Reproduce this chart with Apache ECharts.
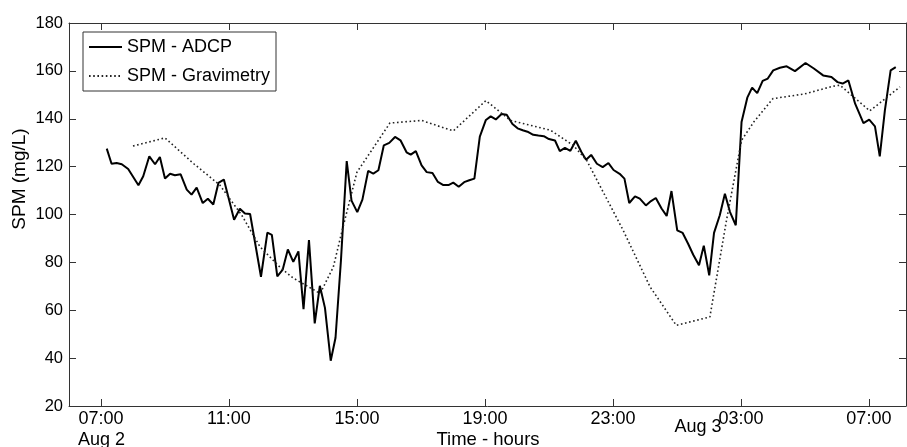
<!DOCTYPE html>
<html>
<head>
<meta charset="utf-8">
<script src="https://cdn.jsdelivr.net/npm/echarts@6/dist/echarts.min.js"></script>
<style>
html,body{margin:0;padding:0;background:#fff;}
#chart{width:907px;height:447px;}
</style>
</head>
<body>
<div id="chart"></div>
<script>
// Time in hours since Aug 2 00:00
var adcpHours = [7.18,7.33,7.49,7.65,7.85,8.17,8.32,8.51,8.69,8.84,9.00,9.16,9.31,9.49,9.68,9.83,9.99,10.18,10.34,10.51,10.67,10.84,10.98,11.16,11.34,11.50,11.66,12.00,12.20,12.34,12.51,12.68,12.84,13.01,13.17,13.33,13.50,13.68,13.84,14.00,14.18,14.33,14.50,14.68,14.83,15.01,15.17,15.35,15.51,15.67,15.84,16.01,16.19,16.36,16.55,16.68,16.84,17.02,17.18,17.36,17.53,17.70,17.86,18.01,18.18,18.35,18.51,18.67,18.84,19.03,19.18,19.34,19.52,19.68,19.86,20.02,20.18,20.33,20.51,20.67,20.84,21.00,21.19,21.34,21.50,21.67,21.84,22.01,22.16,22.32,22.50,22.68,22.86,23.02,23.21,23.36,23.51,23.69,23.84,24.03,24.19,24.34,24.52,24.68,24.83,25.01,25.18,25.35,25.51,25.69,25.84,26.01,26.16,26.34,26.50,26.66,26.84,27.02,27.20,27.35,27.51,27.68,27.84,28.01,28.22,28.43,28.69,29.02,29.28,29.57,29.83,30.02,30.18,30.36,30.57,30.83,31.01,31.19,31.34,31.50,31.68,31.84];
var adcpValues = [127.5,121.2,121.5,121,119,112.2,116,124.3,121,124,115,117,116.4,116.8,110.4,108.3,111.2,104.8,106.6,104.2,113.2,114.6,107.3,97.8,102.4,100.4,100.2,74,92.4,91.5,74.2,77,85.4,80.2,84.6,60.5,89.3,54.5,70.2,61,38.9,48.5,80.9,122.3,105.8,101,106.2,118.2,117.1,118.5,128.9,129.9,132.4,131,126,125,126.5,120.5,117.7,117.3,113.6,112.3,112.3,113.3,111.6,113.5,114.3,115,132.5,139.5,141,139.7,142,141.7,137.8,136,135.2,134.6,133.3,133,132.7,131.5,130.9,126.5,127.8,126.6,130.8,126.2,122.9,124.9,121.2,119.8,121.5,118.6,117,115,104.8,107.6,106.6,103.8,105.6,106.9,102.5,99.4,109.8,93.4,92.3,87.8,83.2,78.8,87,74.6,92.3,99.7,108.7,101,95.5,138.6,148.8,153,150.7,155.8,156.8,160.2,161.3,161.9,159.9,163.3,161,158.1,157.4,155.3,154.7,156,146.3,138.2,139.6,136.8,124.3,143.5,160.2,161.6];

var gravHours = [8.0,9.0,9.9,10.72,11.4,11.97,12.59,13.0,13.85,14.26,14.55,15.0,15.6,16.03,17.02,18.01,19.03,19.8,21.05,21.76,22.18,23.32,24.16,24.98,26.03,26.55,27.02,27.4,28.0,29.0,29.88,30.1,31.03,31.97];
var gravValues = [128.6,132,121.2,112.2,99.7,86.5,78,73.5,67,78,94,117.7,129.6,138.2,139.3,134.9,147.6,139.3,135.2,128.9,122.6,93.4,69.8,53.7,57.2,97.6,131,138.6,148.4,150.4,153.6,154,143.3,153.3];

var xTickHours = [7,11,15,19,23,27,31];
var seriesNames = ['SPM - ADCP','SPM - Gravimetry'];
var dayLabels = ['Aug 2','Aug 3'];
var xAxisTitle = 'Time - hours';
var yAxisTitle = 'SPM (mg/L)';

function pairs(xs, ys){ var out=[]; for (var i=0;i<xs.length;i++) out.push([xs[i], ys[i]]); return out; }
function fmtHour(v){ var h = Math.round(v) % 24; return (h<10?'0':'')+h+':00'; }

var FONT = 'Liberation Sans, Arial, sans-serif';
var AX = '#333';

var chart = echarts.init(document.getElementById('chart'), null, {renderer:'canvas'});
chart.setOption({
  animation:false,
  backgroundColor:'#fff',
  grid:{left:69,right:1,top:23,bottom:41,containLabel:false},
  legend:{
    data:seriesNames,
    orient:'vertical',
    left:83, top:32,
    padding:[6,6,6,5],
    itemGap:11,
    itemWidth:33, itemHeight:14,
    borderColor:'#333', borderWidth:1,
    backgroundColor:'#fff',
    itemStyle:{opacity:0},
    textStyle:{fontFamily:FONT,fontSize:18,color:'#000'}
  },
  xAxis:[{
    type:'value', min:6, max:32.16,
    axisLine:{show:true,lineStyle:{color:AX,width:1}},
    axisTick:{show:true,inside:true,length:7,customValues:xTickHours,lineStyle:{color:AX}},
    axisLabel:{show:true,customValues:xTickHours,formatter:fmtHour,margin:4,fontFamily:FONT,fontSize:18,color:'#000'},
    splitLine:{show:false}
  },{
    type:'value', min:6, max:32.16, position:'top',
    axisLine:{show:true,lineStyle:{color:AX,width:1}},
    axisTick:{show:true,inside:true,length:7,customValues:xTickHours,lineStyle:{color:AX}},
    axisLabel:{show:false},
    splitLine:{show:false}
  }],
  yAxis:[{
    type:'value', min:20, max:180, interval:20,
    axisLine:{show:true,lineStyle:{color:AX,width:1}},
    axisTick:{show:true,inside:true,length:7,lineStyle:{color:AX}},
    axisLabel:{show:true,margin:6,fontFamily:FONT,fontSize:16.5,color:'#000'},
    splitLine:{show:false}
  },{
    type:'value', min:20, max:180, interval:20, position:'right',
    axisLine:{show:true,lineStyle:{color:AX,width:1}},
    axisTick:{show:true,inside:true,length:7,lineStyle:{color:AX}},
    axisLabel:{show:false},
    splitLine:{show:false}
  }],
  series:[{
    name:seriesNames[0], type:'line', xAxisIndex:0, yAxisIndex:0,
    data:pairs(adcpHours, adcpValues),
    showSymbol:false, symbol:'none',
    itemStyle:{color:'#000'},
    lineStyle:{color:'#000',width:2}
  },{
    name:seriesNames[1], type:'line', xAxisIndex:0, yAxisIndex:0,
    data:pairs(gravHours, gravValues),
    showSymbol:false, symbol:'none',
    itemStyle:{color:'#222'},
    lineStyle:{color:'#222',width:1.6,type:[1.6,2.6]}
  }],
  graphic:[
    {type:'text', x:78, y:440, style:{text:dayLabels[0], font:'18px '+FONT, fill:'#000', textAlign:'left', textVerticalAlign:'middle'}},
    {type:'text', x:698, y:427, style:{text:dayLabels[1], font:'18px '+FONT, fill:'#000', textAlign:'center', textVerticalAlign:'middle'}},
    {type:'text', x:488, y:440, style:{text:xAxisTitle, font:'18.5px '+FONT, fill:'#000', textAlign:'center', textVerticalAlign:'middle'}},
    {type:'text', x:20, y:179, rotation:Math.PI/2, style:{text:yAxisTitle, font:'19px '+FONT, fill:'#000', textAlign:'center', textVerticalAlign:'middle'}}
  ]
});
</script>
</body>
</html>
